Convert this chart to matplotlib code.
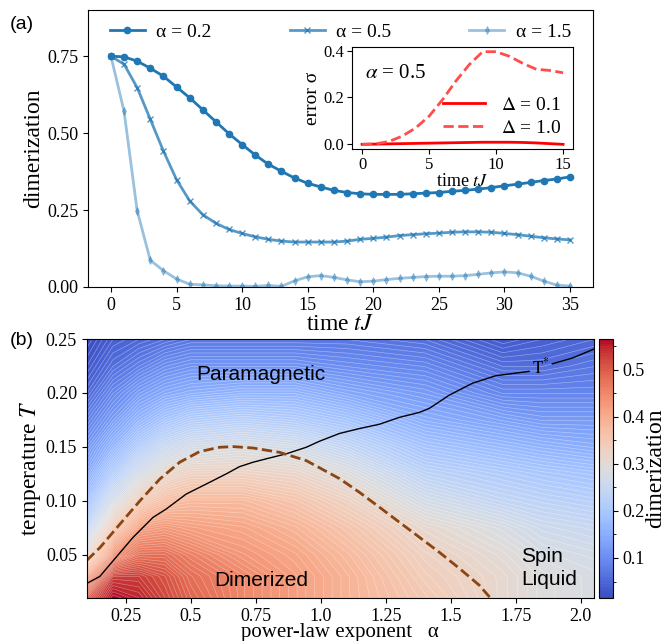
import numpy as np
import matplotlib
matplotlib.use("Agg")
import matplotlib.pyplot as plt
from matplotlib.ticker import MultipleLocator

plt.rcParams['font.family'] = ['Liberation Serif', 'DejaVu Serif']
plt.rcParams['mathtext.fontset'] = 'stix'

# ---- panel (a): dimerization vs time ----
t = np.arange(0, 36)
dim_a02 = [0.750, 0.748, 0.734, 0.711, 0.685, 0.650, 0.615, 0.576, 0.537, 0.498,
           0.463, 0.429, 0.399, 0.376, 0.354, 0.337, 0.325, 0.314, 0.307, 0.303,
           0.301, 0.301, 0.301, 0.303, 0.305, 0.307, 0.311, 0.314, 0.318, 0.323,
           0.329, 0.334, 0.340, 0.346, 0.351, 0.358]
dim_a05 = [0.750, 0.724, 0.648, 0.545, 0.442, 0.349, 0.280, 0.235, 0.207, 0.187,
           0.174, 0.163, 0.155, 0.149, 0.146, 0.146, 0.146, 0.146, 0.149, 0.155,
           0.158, 0.162, 0.167, 0.170, 0.173, 0.175, 0.178, 0.179, 0.179, 0.178,
           0.174, 0.170, 0.165, 0.160, 0.156, 0.153]
dim_a15 = [0.750, 0.571, 0.248, 0.087, 0.053, 0.026, 0.009, 0.007, 0.004, 0.003,
           0.003, 0.002, 0.005, 0.002, 0.020, 0.033, 0.037, 0.031, 0.023, 0.017,
           0.019, 0.024, 0.028, 0.031, 0.034, 0.035, 0.035, 0.037, 0.041, 0.046,
           0.049, 0.046, 0.035, 0.019, 0.006, 0.003]

# inset: error sigma for alpha = 0.5
t_err = np.arange(0, 16)
err_d01 = [0.000, 0.001, 0.002, 0.003, 0.004, 0.005, 0.006, 0.007, 0.008, 0.009,
           0.009, 0.009, 0.008, 0.006, 0.003, 0.000]
err_d10 = [0.000, 0.002, 0.012, 0.035, 0.070, 0.120, 0.190, 0.270, 0.340, 0.395,
           0.395, 0.375, 0.345, 0.320, 0.315, 0.305]

# ---- panel (b): dimerization map ----
alpha_grid = [0.1, 0.2, 0.3, 0.4, 0.5, 0.7, 0.9, 1.1, 1.4, 1.7, 1.85, 2.05]
T_grid = [0.01, 0.03, 0.05, 0.075, 0.1, 0.125, 0.15, 0.175, 0.2, 0.225, 0.25]
dim_map = [
    [0.50, 0.565, 0.55, 0.52, 0.49, 0.45, 0.42, 0.39, 0.35, 0.31, 0.29, 0.28],
    [0.42, 0.53, 0.53, 0.51, 0.48, 0.45, 0.42, 0.39, 0.34, 0.31, 0.29, 0.28],
    [0.31, 0.44, 0.48, 0.48, 0.46, 0.43, 0.41, 0.38, 0.33, 0.30, 0.28, 0.27],
    [0.23, 0.35, 0.42, 0.43, 0.42, 0.41, 0.39, 0.36, 0.31, 0.28, 0.26, 0.25],
    [0.18, 0.27, 0.34, 0.37, 0.38, 0.38, 0.36, 0.33, 0.27, 0.24, 0.23, 0.22],
    [0.14, 0.21, 0.27, 0.31, 0.33, 0.33, 0.32, 0.29, 0.23, 0.21, 0.20, 0.19],
    [0.11, 0.16, 0.21, 0.25, 0.27, 0.28, 0.27, 0.24, 0.19, 0.17, 0.16, 0.15],
    [0.08, 0.12, 0.16, 0.19, 0.21, 0.22, 0.21, 0.19, 0.15, 0.13, 0.12, 0.12],
    [0.05, 0.09, 0.12, 0.14, 0.15, 0.16, 0.16, 0.14, 0.12, 0.09, 0.09, 0.09],
    [0.03, 0.06, 0.08, 0.10, 0.11, 0.11, 0.11, 0.10, 0.09, 0.06, 0.06, 0.07],
    [0.015, 0.04, 0.05, 0.06, 0.07, 0.07, 0.07, 0.07, 0.06, 0.03, 0.04, 0.05],
]

# crossover line T*
tstar_alpha = [0.1, 0.15, 0.2, 0.277, 0.354, 0.405, 0.482, 0.559, 0.636, 0.687, 0.739,
               0.79, 0.867, 0.944, 0.995, 1.072, 1.148, 1.225, 1.302, 1.379, 1.417,
               1.494, 1.583, 1.673, 1.801]
tstar_T = [0.0235, 0.030, 0.0442, 0.066, 0.0846, 0.0924, 0.1063, 0.1156, 0.125, 0.1317,
           0.1358, 0.139, 0.1436, 0.1497, 0.1553, 0.1625, 0.167, 0.171, 0.1774, 0.182,
           0.1857, 0.198, 0.209, 0.216, 0.220]
tstar_alpha2 = [1.89, 1.967, 2.05]
tstar_T2 = [0.227, 0.2323, 0.2407]

# dashed phase boundary
bound_alpha = [0.1, 0.15, 0.227, 0.304, 0.381, 0.457, 0.534, 0.611, 0.662, 0.739, 0.841,
               0.944, 1.072, 1.148, 1.225, 1.302, 1.379, 1.456, 1.533, 1.609, 1.654]
bound_T = [0.0449, 0.0566, 0.0784, 0.100, 0.1203, 0.1358, 0.1457, 0.1497, 0.1503, 0.149,
           0.145, 0.1373, 0.1206, 0.108, 0.0942, 0.0802, 0.0663, 0.0523, 0.0374, 0.0219,
           0.0095]

fig = plt.figure(figsize=(6.68, 6.41), dpi=100)

ax = fig.add_axes([0.1317, 0.5523, 0.756, 0.432])
ax.plot(t, dim_a02, '-o', color='tab:blue', lw=2, ms=4.5, label='α = 0.2')
ax.plot(t, dim_a05, '-x', color='tab:blue', alpha=0.75, lw=2, ms=4, mew=1, label='α = 0.5')
ax.plot(t, dim_a15, '-d', color='tab:blue', alpha=0.45, lw=2, ms=4, mew=0.5, label='α = 1.5')
ax.set_ylim(0, 0.9)
ax.set_yticks([0, 0.25, 0.5, 0.75])
ax.set_xticks(range(0, 36, 5))
ax.tick_params(labelsize=13)
ax.set_xlabel('time $tJ$', fontsize=17, labelpad=0)
ax.set_ylabel('dimerization', fontsize=17, labelpad=2)
ax.legend(loc='upper center', ncol=3, frameon=False, fontsize=14,
          handlelength=1.8, handletextpad=0.6, columnspacing=4.0, borderaxespad=0.3)

ins = fig.add_axes([0.527, 0.7676, 0.331, 0.159])
ins.plot(t_err, err_d01, '-', color='red', lw=2, label=r'$\Delta$ = 0.1')
ins.plot(t_err, err_d10, '--', color='#ff4d4d', lw=2, label=r'$\Delta$ = 1.0')
ins.set_xticks([0, 5, 10, 15])
ins.set_yticks([0.0, 0.2, 0.4])
ins.tick_params(labelsize=12, pad=2)
ins.set_xlabel('time $tJ$', fontsize=13, labelpad=0)
ins.set_ylabel('error σ', fontsize=14, labelpad=2)
ins.text(0.06, 0.70, r'$\alpha$ = 0.5', transform=ins.transAxes, fontsize=15)
ins.legend(loc='lower right', frameon=False, fontsize=14, handlelength=2.2,
           borderaxespad=0.2, labelspacing=0.3)

# ---- panel (b) ----
bx = fig.add_axes([0.130, 0.0671, 0.759, 0.404])
Z = np.array(dim_map)
levels = np.linspace(0.015, 0.565, 110)
cf = bx.contourf(alpha_grid, T_grid, Z, levels=levels, cmap='coolwarm')
bx.contour(alpha_grid, T_grid, Z, levels=levels, colors='white', linewidths=0.45, alpha=0.4)
bx.plot(tstar_alpha, tstar_T, color='black', lw=1)
bx.plot(tstar_alpha2, tstar_T2, color='black', lw=1)
bx.text(1.845, 0.2235, r'$\mathrm{T}^{*}$', fontsize=12, ha='center', va='center')
bx.plot(bound_alpha, bound_T, '--', color='#8b4513', lw=2)
bx.set_xlim(0.1, 2.05)
bx.set_ylim(0.01, 0.25)
bx.set_xticks([0.25, 0.5, 0.75, 1.0, 1.25, 1.5, 1.75, 2.0])
bx.set_xticklabels(['0.25', '0.5', '0.75', '1.0', '1.25', '1.5', '1.75', '2.0'])
bx.set_yticks([0.05, 0.10, 0.15, 0.20, 0.25])
bx.tick_params(labelsize=13)
bx.set_xlabel('power-law exponent   α', fontsize=15, labelpad=-1)
bx.set_ylabel('temperature $T$', fontsize=17, labelpad=2)
sans = ['Liberation Sans', 'DejaVu Sans']
bx.text(0.77, 0.217, 'Paramagnetic', family=sans, fontsize=15, ha='center', va='center')
bx.text(0.77, 0.026, 'Dimerized', family=sans, fontsize=15, ha='center', va='center')
bx.text(1.77, 0.0377, 'Spin\nLiquid', family=sans, fontsize=15, ha='left', va='center',
        linespacing=1.3)

cax = fig.add_axes([0.8967, 0.0671, 0.021, 0.404])
cb = fig.colorbar(cf, cax=cax)
cb.set_ticks([0.1, 0.2, 0.3, 0.4, 0.5])
cb.ax.yaxis.set_minor_locator(MultipleLocator(0.05))
cb.ax.tick_params(labelsize=13)
cb.set_label('dimerization', fontsize=17, labelpad=0)

fig.text(0.015, 0.975, '(a)', family=sans, fontsize=14, va='top')
fig.text(0.015, 0.482, '(b)', family=sans, fontsize=14, va='top')

fig.savefig('out.png', dpi=100)
